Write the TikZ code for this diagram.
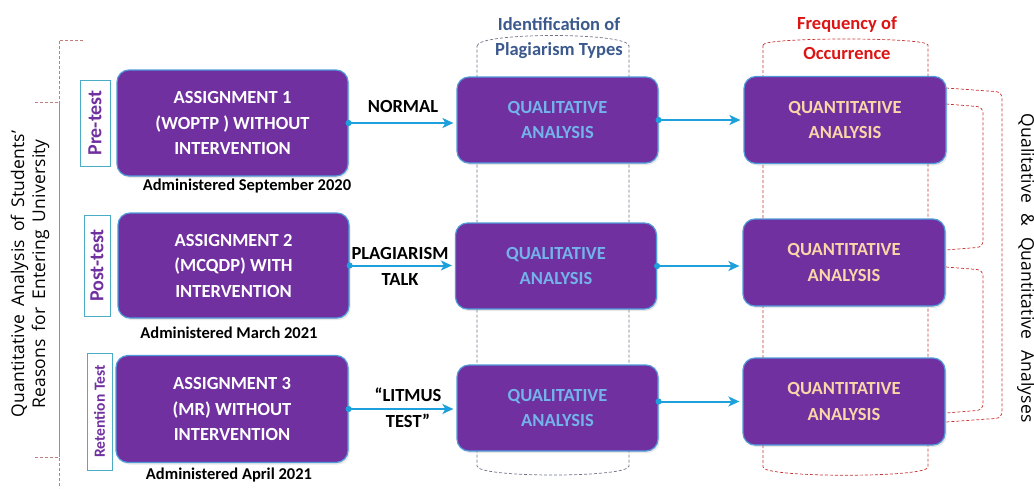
\documentclass[tikz,border=0pt]{standalone}
\usepackage{fontspec}
\setmainfont{Carlito}
\newfontfamily\sidefont[LetterSpace=1]{Open Sans}
\usetikzlibrary{arrows.meta,shadows}
\definecolor{boxpurple}{RGB}{112,48,160}
\definecolor{boxedge}{RGB}{79,155,217}
\definecolor{qualtext}{RGB}{116,178,234}
\definecolor{quanttext}{RGB}{248,214,168}
\definecolor{arrowblue}{RGB}{30,160,220}
\definecolor{steel}{RGB}{59,89,140}
\definecolor{redlab}{RGB}{220,20,20}
\definecolor{teal}{RGB}{75,172,198}
\definecolor{greycol}{RGB}{110,115,135}
\definecolor{reddash}{RGB}{200,50,50}
\definecolor{pinkline}{RGB}{195,125,125}
\newcommand{\wsp}{\hspace{0.45em}}
\newcommand{\wspr}{\hspace{0.6em}}
\begin{document}
\begin{tikzpicture}[x=1pt,y=-1pt,
  mainbox/.style={rectangle, rounded corners=12pt, fill=boxpurple, draw=boxedge,
    line width=1.2pt, inner sep=0pt, align=center,
    drop shadow={opacity=0.18, shadow xshift=1.5pt, shadow yshift=-2pt},
    font=\bfseries\fontsize{18.5}{25.5}\selectfont},
  assignbox/.style={mainbox, text=white, minimum width=231pt, minimum height=106pt},
  qualbox/.style={mainbox, text=qualtext, minimum width=201pt, minimum height=86pt},
  quantbox/.style={mainbox, text=quanttext, minimum width=202pt, minimum height=87pt},
  tagbox/.style={rectangle, draw=teal, line width=1pt, fill=white, text=boxpurple,
    rotate=90, inner sep=0pt, font=\bfseries\fontsize{20}{22}\selectfont},
  datetext/.style={font=\bfseries\fontsize{16.5}{19}\selectfont, text=black},
  edgetext/.style={font=\bfseries\fontsize{18.5}{26}\selectfont, text=black, align=center},
  flow/.style={draw=arrowblue, line width=2pt,
    {Circle[length=6pt,width=6pt]}-{Stealth[length=11pt,width=10pt,inset=3pt]},
    shorten <=-3pt, shorten >=3pt},
  grycol/.style={draw=greycol, line width=0.7pt, dash pattern=on 3pt off 2pt},
  redcol/.style={draw=reddash, line width=0.7pt, dash pattern=on 3pt off 2pt},
  collabel/.style={font=\bfseries\fontsize{18.5}{22}\selectfont},
  sidetext/.style={font=\sidefont\fontsize{17.5}{21}\selectfont, align=center}
]
\useasboundingbox (0,0) rectangle (1034,488);

% dashed columns
\draw[grycol] (477,46) .. controls (477,32) and (629,32) .. (629,46)
  -- (629,466) .. controls (629,478) and (477,478) .. (477,466) -- cycle;
\draw[redcol] (763,45) .. controls (763,37) and (928,37) .. (928,45)
  -- (928,467) .. controls (928,478) and (763,478) .. (763,467) -- cycle;

% column labels
\node[collabel, text=steel] (id1) at (559,24) {Identification of};
\node[collabel, text=steel] (id2) at (559,51) {Plagiarism Types};
\node[collabel, text=redlab] (fr1) at (847,25) {Frequency of};
\node[collabel, text=redlab] (fr2) at (847,53) {Occurrence};

% left bracket
\draw[pinkline, line width=0.8pt, dash pattern=on 3pt off 2pt] (83,40) -- (59,40) -- (59,102);
\draw[pinkline, line width=0.8pt, dash pattern=on 3pt off 2pt] (35,102) -- (59,102);
\draw[pinkline, line width=0.8pt] (59,102) -- (59,457);
\draw[pinkline, line width=0.8pt, dash pattern=on 3pt off 2pt] (35,457) -- (59,457) -- (59,488);

% left text
\node[sidetext, rotate=90] (lt) at (30,274)
  {Quantitative\wsp Analysis\wsp of\wsp Students’\\Reasons\wsp for\wsp Entering\wsp University};

% right brackets
\draw[redcol, rounded corners=6pt] (946,88) -- (1002,92) -- (1002,418) -- (946,422);
\draw[redcol, rounded corners=6pt] (946,104) -- (983,107) -- (983,247) -- (946,250);
\draw[redcol, rounded corners=6pt] (946,267) -- (983,270) -- (983,410) -- (946,413);

% right text
\node[sidetext, rotate=-90] (rt) at (1026,268) {Qualitative\wspr \&\wspr Quantitative\wspr Analyses};

% row 1
\node[tagbox, minimum width=86pt, minimum height=30pt] (t1) at (95,123) {Pre-test};
\node[assignbox] (a1) at (232.5,123) {ASSIGNMENT 1\\(WOPTP ) WITHOUT\\INTERVENTION};
\node[datetext] (d1) at (247,186) {Administered September 2020};
\node[qualbox] (q1) at (557.5,120) {QUALITATIVE\\ANALYSIS};
\node[quantbox] (n1) at (845,120) {QUANTITATIVE\\ANALYSIS};
\node[edgetext] (e1) at (403,106) {NORMAL};

% row 2
\node[tagbox, minimum width=101pt, minimum height=26pt] (t2) at (97,265.5) {Post-test};
\node[assignbox, minimum height=105pt] (a2) at (233.5,265.5) {ASSIGNMENT 2\\(MCQDP) WITH\\INTERVENTION};
\node[datetext] (d2) at (229,333) {Administered March 2021};
\node[qualbox] (q2) at (556,266) {QUALITATIVE\\ANALYSIS};
\node[quantbox] (n2) at (844,262.5) {QUANTITATIVE\\ANALYSIS};
\node[edgetext] (e2) at (400,266) {PLAGIARISM\\TALK};

% row 3
\node[tagbox, minimum width=117pt, minimum height=25pt,
  font=\bfseries\fontsize{15.5}{16}\selectfont] (t3) at (99.5,411.5) {Retention Test};
\node[assignbox, minimum width=232pt, minimum height=107pt] (a3) at (232,409) {ASSIGNMENT 3\\(MR) WITHOUT\\INTERVENTION};
\node[datetext] (d3) at (229,475) {Administered April 2021};
\node[qualbox] (q3) at (557.5,408) {QUALITATIVE\\ANALYSIS};
\node[quantbox] (n3) at (844,401.5) {QUANTITATIVE\\ANALYSIS};
\node[edgetext] (e3) at (408,408) {“LITMUS\\TEST”};

% connectors
\draw[flow] (a1.east) -- (q1.west |- a1.east);
\draw[flow] (a2.east) -- (q2.west |- a2.east);
\draw[flow] (a3.east) -- (q3.west |- a3.east);
\draw[flow] (q1.east) -- (n1.west);
\draw[flow] (q2.east) -- (n2.west |- q2.east);
\draw[flow] (q3.east |- n3.west) -- (n3.west);
\end{tikzpicture}
\end{document}
